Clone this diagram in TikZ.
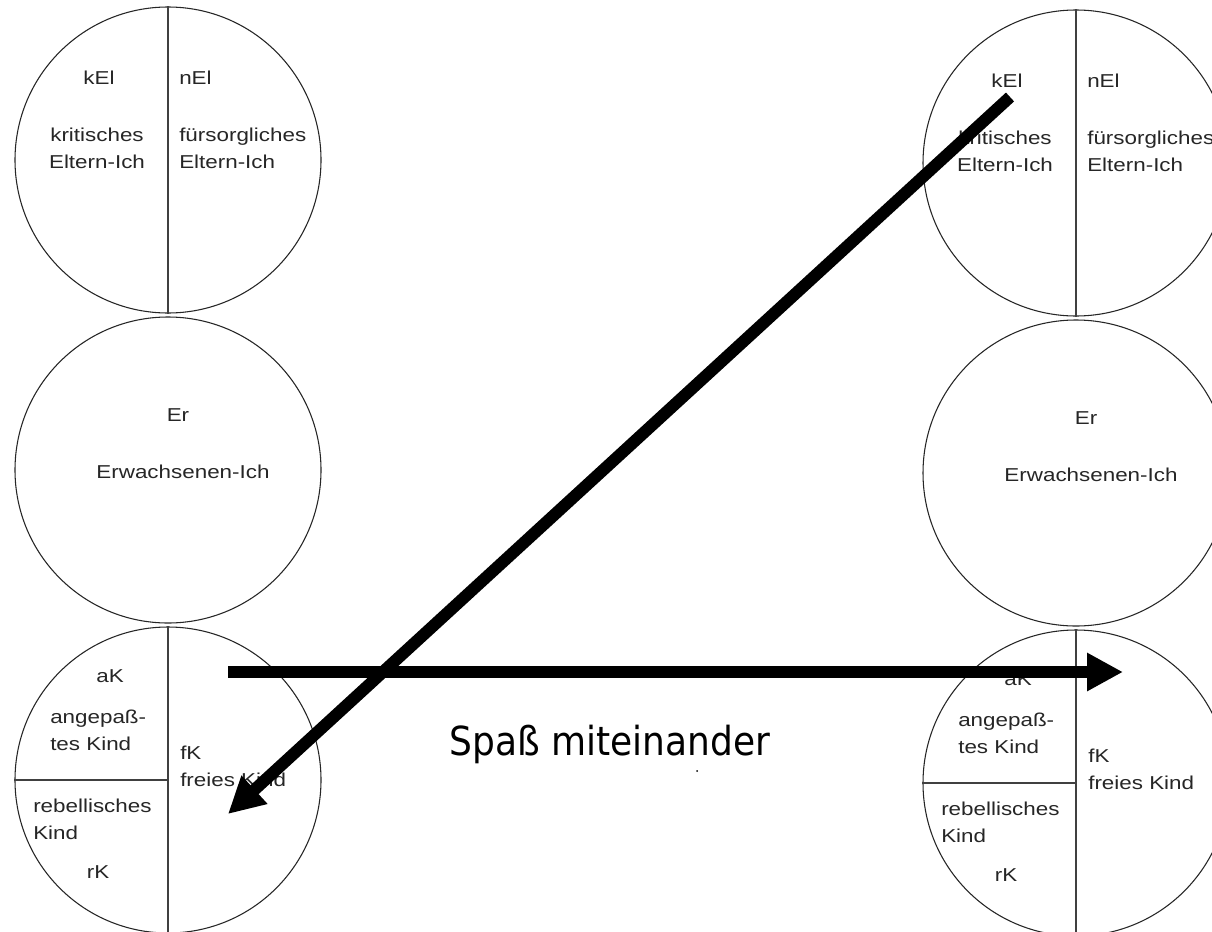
\documentclass[tikz,border=0pt]{standalone}
\usepackage{fontspec}
\usepackage{tikz}
\usetikzlibrary{arrows.meta}
\newfontfamily\ichfont[FakeStretch=1.2]{Liberation Sans}
\newfontfamily\spassfont[FakeStretch=0.9]{DejaVu Sans}
\tikzset{x=0.75pt, y=-0.75pt, % one unit = one pixel, y downwards
    ich/.style=
    { % the ego state circles
        circle,
        draw=black!85,
        line width=0.8pt,
        minimum size=229.5pt,
        inner sep=0pt
    },
    teil/.style={draw=black!75, line width=0.8pt}, % dividing lines
    txt/.style={font=\ichfont\fontsize{14}{20}\selectfont, inner sep=0pt, text=black!85},
    pfeil/.style={ % the thick transaction arrows
        draw,
        line width=9pt,
        -{Triangle[length=27pt,width=27pt]}
    }
}
\begin{document}
\begin{tikzpicture}
\clip (0,0) rectangle (1212,931);
\fill[white] (0,0) rectangle (1212,931);

% left person
\node [ich] (elternL) at (168,160) {};
\node [ich] (erwL)    at (168,470) {};
\node [ich] (kindL)   at (168,780) {};
\draw[teil] (elternL.north) -- (elternL.south);
\draw[teil] (kindL.north) -- (kindL.south);
\draw[teil] (kindL.west) -- (kindL.center);

\node [txt]                      (kelL)   at (99,78)   {kEl};
\node [txt,anchor=west]          (nelL)   at (179,78)  {nEl};
\node [txt,align=center]         (kritL)  at (97,148)  {kritisches\\Eltern-Ich};
\node [txt,align=left,anchor=west] (fuerL) at (179,148) {fürsorgliches\\Eltern-Ich};
\node [txt]                      (erL)    at (178,415) {Er};
\node [txt]                      (erwTL)  at (183,472) {Erwachsenen-Ich};
\node [txt]                      (akL)    at (110,676) {aK};
\node [txt,align=left,anchor=west] (angL) at (50,730)  {angepaß-\\tes Kind};
\node [txt,align=left,anchor=west] (fkL)  at (180,766) {fK\\freies Kind};
\node [txt,align=left,anchor=west] (rebL) at (33,819)  {rebellisches\\Kind};
\node [txt]                      (rkL)    at (98,872)  {rK};

% right person
\node [ich] (elternR) at (1076,163) {};
\node [ich] (erwR)    at (1076,473) {};
\node [ich] (kindR)   at (1076,783) {};
\draw[teil] (elternR.north) -- (elternR.south);
\draw[teil] (kindR.north) -- (kindR.south);
\draw[teil] (kindR.west) -- (kindR.center);

\node [txt]                      (kelR)   at (1007,81)  {kEl};
\node [txt,anchor=west]          (nelR)   at (1087,81)  {nEl};
\node [txt,align=center]         (kritR)  at (1005,151) {kritisches\\Eltern-Ich};
\node [txt,align=left,anchor=west] (fuerR) at (1087,151) {fürsorgliches\\Eltern-Ich};
\node [txt]                      (erR)    at (1086,418) {Er};
\node [txt]                      (erwTR)  at (1091,475) {Erwachsenen-Ich};
\node [txt]                      (akR)    at (1018,679) {aK};
\node [txt,align=left,anchor=west] (angR) at (958,733)  {angepaß-\\tes Kind};
\node [txt,align=left,anchor=west] (fkR)  at (1088,769) {fK\\freies Kind};
\node [txt,align=left,anchor=west] (rebR) at (941,822)  {rebellisches\\Kind};
\node [txt]                      (rkR)    at (1006,875) {rK};

% transactions
\coordinate (vonL) at (228,672);
\coordinate (zuR)  at (1123,672);
\coordinate (vonR) at (1010,97);
\coordinate (zuL)  at (228,814);
\draw[pfeil] (vonL) -- (zuR);
\draw[pfeil] (vonR) -- (zuL);

\node [font=\spassfont\fontsize{30}{36}\selectfont, anchor=base, inner sep=0pt] (spass) at (610,755) {Spaß miteinander};
\fill (697,771) circle (1);
\end{tikzpicture}
\end{document}
